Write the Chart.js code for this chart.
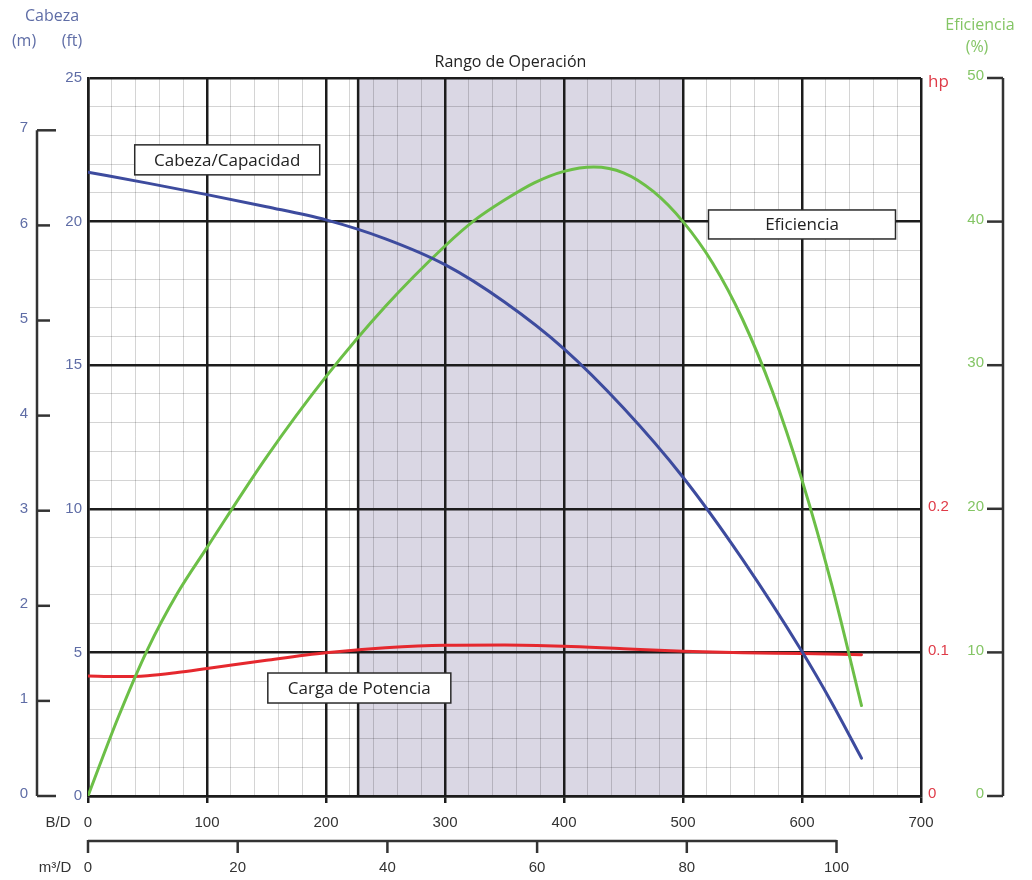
<!DOCTYPE html>
<html>
<head>
<meta charset="utf-8">
<title>Curva de bomba</title>
<script src="https://cdn.jsdelivr.net/npm/chart.js@4.4.0/dist/chart.umd.min.js"></script>
<style>
  html, body { margin: 0; padding: 0; background: #fff; }
  #wrap { width: 1032px; height: 880px; }
</style>
</head>
<body>
<div id="wrap"><canvas id="curva" width="1032" height="880"></canvas></div>
<script>
const caudalCabeza = [0, 50, 100, 150, 200, 250, 300, 350, 400, 450, 500, 550, 600, 625, 650];
const cabezaFt     = [21.72, 21.34, 20.94, 20.52, 20.06, 19.40, 18.50, 17.20, 15.57, 13.51, 11.10, 8.24, 5.03, 3.25, 1.32];

const caudalEfic    = [0, 25, 50, 75, 100, 150, 200, 250, 300, 325, 350, 375, 400, 425, 450, 475, 500, 525, 550, 575, 600, 625, 650];
const eficienciaPct = [0, 5.4, 10.2, 14.1, 17.3, 23.6, 29.2, 34.1, 38.3, 40.1, 41.5, 42.7, 43.5, 43.8, 43.4, 42.1, 40.0, 37.1, 33.2, 28.2, 22.0, 14.7, 6.3];

const caudalPot  = [0, 25, 50, 75, 100, 150, 200, 250, 300, 350, 400, 450, 500, 550, 600, 650];
const potenciaHp = [0.0836, 0.0832, 0.0838, 0.0860, 0.0888, 0.0945, 0.0997, 0.1032, 0.1050, 0.1052, 0.1043, 0.1025, 0.1008, 0.0998, 0.0992, 0.0984];

// rango de operación (B/D)
const rangoOperacion = [227, 500];

// etiquetas de ejes secundarios
const ticksMetros = [0, 1, 2, 3, 4, 5, 6, 7];
const ticksM3     = [0, 20, 40, 60, 80, 100];
const ticksHp     = [0, 0.1, 0.2];
const ticksEfic   = [0, 10, 20, 30, 40, 50];

(function(){
  const BLUE_TXT = '#5f6da6';
  const GREEN_TXT = '#84c565';
  const RED_TXT = '#df3b48';
  const DARK = '#1c1c1c';
  const TICK_FONT = '15px "Liberation Sans", Arial, sans-serif';
  const LABEL_FONT = '16px "Open Sans", "DejaVu Sans", sans-serif';

  const pts = (xs, ys) => xs.map((x, i) => ({ x, y: ys[i] }));
  const isMajorX = (v) => v % 100 === 0;
  const isMajorY = (v) => v % 5 === 0;

  function text(ctx, s, x, y, color, font, align){
    ctx.fillStyle = color;
    ctx.font = font;
    ctx.textAlign = align || 'center';
    ctx.textBaseline = 'middle';
    ctx.fillText(s, x, y);
  }

  function box(ctx, s, cx, cy, w, h){
    ctx.fillStyle = '#fff';
    ctx.fillRect(cx - w/2, cy - h/2, w, h);
    ctx.strokeStyle = '#2a2a2a';
    ctx.lineWidth = 1.5;
    ctx.strokeRect(cx - w/2, cy - h/2, w, h);
    text(ctx, s, cx, cy + 1, '#222', '17px "Open Sans", "DejaVu Sans", sans-serif');
  }

  function line(ctx, x0, y0, x1, y1){
    ctx.beginPath(); ctx.moveTo(x0, y0); ctx.lineTo(x1, y1); ctx.stroke();
  }

  const extras = {
    id: 'extras',
    beforeDraw(chart){
      const { ctx, chartArea: a, scales: { x } } = chart;
      const x0 = x.getPixelForValue(rangoOperacion[0]);
      const x1 = x.getPixelForValue(rangoOperacion[1]);
      ctx.save();
      ctx.fillStyle = '#dad7e4';
      ctx.fillRect(x0, a.top, x1 - x0, a.bottom - a.top);
      ctx.restore();
    },
    beforeDatasetsDraw(chart){
      // borde izquierdo del rango
      const { ctx, chartArea: a, scales: { x } } = chart;
      const x0 = x.getPixelForValue(rangoOperacion[0]);
      ctx.save();
      ctx.strokeStyle = DARK; ctx.lineWidth = 2.5;
      line(ctx, x0, a.top, x0, a.bottom);
      ctx.restore();
    },
    afterDraw(chart){
      const { ctx, chartArea: a, scales } = chart;
      const { x, y, yM, yHp, yEfic, xM } = scales;
      ctx.save();

      // títulos
      text(ctx, 'Cabeza', 52, 16, BLUE_TXT, LABEL_FONT);
      text(ctx, '(m)', 24, 41, BLUE_TXT, LABEL_FONT);
      text(ctx, '(ft)', 72, 41, BLUE_TXT, LABEL_FONT);
      text(ctx, 'Eficiencia', 980, 25, GREEN_TXT, LABEL_FONT);
      text(ctx, '(%)', 977, 47, GREEN_TXT, LABEL_FONT);
      text(ctx, 'Rango de Operación', x.getPixelForValue(355), a.top - 16, '#222', LABEL_FONT);
      text(ctx, 'hp', a.right + 7, a.top + 4, RED_TXT, '17px "Open Sans", sans-serif', 'left');

      // eje en metros
      const mx = 37;
      ctx.strokeStyle = '#333'; ctx.lineWidth = 2.5;
      const mTop = yM.getPixelForValue(ticksMetros[ticksMetros.length - 1]);
      line(ctx, mx, mTop, mx, yM.getPixelForValue(0));
      ticksMetros.forEach((v, i) => {
        const py = yM.getPixelForValue(v);
        const len = (i === 0 || i === ticksMetros.length - 1) ? 19 : 13;
        line(ctx, mx, py, mx + len, py);
        text(ctx, String(v), 28, py - 2, BLUE_TXT, TICK_FONT, 'right');
      });

      // eje de potencia
      ticksHp.forEach(v => {
        text(ctx, String(v), a.right + 7, yHp.getPixelForValue(v) - 2, RED_TXT, TICK_FONT, 'left');
      });

      // eje de eficiencia
      const ex = 1003;
      line(ctx, ex, yEfic.getPixelForValue(50), ex, yEfic.getPixelForValue(0));
      ticksEfic.forEach(v => {
        const py = yEfic.getPixelForValue(v);
        line(ctx, ex - 16, py, ex, py);
        text(ctx, String(v), ex - 19, py - 2, GREEN_TXT, TICK_FONT, 'right');
      });

      // eje en m3/D
      const ly = 841;
      line(ctx, xM.getPixelForValue(0), ly, xM.getPixelForValue(ticksM3[ticksM3.length - 1]), ly);
      ticksM3.forEach(v => {
        const px = xM.getPixelForValue(v);
        line(ctx, px, ly - 1, px, ly + 12);
        text(ctx, String(v), px, 868, '#333', TICK_FONT);
      });
      text(ctx, 'B/D', 58, 823, '#333', TICK_FONT);
      text(ctx, 'm³/D', 55, 868, '#333', TICK_FONT);

      // etiquetas de curvas
      box(ctx, 'Cabeza/Capacidad', x.getPixelForValue(117), y.getPixelForValue(22.15), 185, 30);
      box(ctx, 'Eficiencia', x.getPixelForValue(600), y.getPixelForValue(19.9), 187, 29);
      box(ctx, 'Carga de Potencia', x.getPixelForValue(228), y.getPixelForValue(3.76), 183, 30);

      ctx.restore();
    }
  };

  const gridX = {
    color: (c) => isMajorX(c.tick.value) ? DARK : 'rgba(0,0,0,0.17)',
    lineWidth: (c) => isMajorX(c.tick.value) ? 2.5 : 1,
    tickColor: (c) => isMajorX(c.tick.value) ? DARK : 'rgba(0,0,0,0)',
    tickLength: 7
  };
  const gridY = {
    color: (c) => isMajorY(c.tick.value) ? DARK : 'rgba(0,0,0,0.17)',
    lineWidth: (c) => isMajorY(c.tick.value) ? 2.5 : 1,
    drawTicks: false
  };

  new Chart(document.getElementById('curva').getContext('2d'), {
    type: 'line',
    data: {
      datasets: [
        { label: 'Cabeza/Capacidad', data: pts(caudalCabeza, cabezaFt), yAxisID: 'y',
          borderColor: '#3d4b9e', borderWidth: 3 },
        { label: 'Eficiencia', data: pts(caudalEfic, eficienciaPct), yAxisID: 'yEfic',
          borderColor: '#6cbf47', borderWidth: 3 },
        { label: 'Carga de Potencia', data: pts(caudalPot, potenciaHp), yAxisID: 'yHp',
          borderColor: '#e5282e', borderWidth: 3 }
      ]
    },
    options: {
      responsive: false,
      animation: false,
      layout: { padding: { left: 48, right: 111, top: 78, bottom: 44 } },
      elements: {
        point: { radius: 0 },
        line: { tension: 0.4, cubicInterpolationMode: 'monotone', fill: false, borderCapStyle: 'round' }
      },
      plugins: { legend: { display: false }, tooltip: { enabled: false } },
      scales: {
        x: {
          type: 'linear', position: 'bottom', min: 0, max: 700,
          grid: gridX,
          border: { display: true, color: DARK, width: 2.5 },
          ticks: {
            stepSize: 20, autoSkip: false, maxRotation: 0, padding: 11,
            color: '#333', font: { family: 'Liberation Sans', size: 15 },
            callback: (v) => isMajorX(v) ? String(v) : ''
          },
          afterFit: (s) => { s.height = 40; }
        },
        y: {
          type: 'linear', position: 'left', min: 0, max: 25,
          grid: gridY,
          border: { display: true, color: DARK, width: 2.5 },
          ticks: {
            stepSize: 1, autoSkip: false, padding: 6,
            color: BLUE_TXT, font: { family: 'Liberation Sans', size: 15 },
            callback: (v) => isMajorY(v) ? String(v) : ''
          },
          afterFit: (s) => { s.width = 40; }
        },
        yM:    { type: 'linear', display: false, min: 0, max: 7.55 },
        yHp:   { type: 'linear', display: false, min: 0, max: 0.5 },
        yEfic: { type: 'linear', display: false, min: 0, max: 50 },
        xM:    { type: 'linear', axis: 'x', position: 'bottom', display: false, min: 0, max: 700 / 6.29 }
      }
    },
    plugins: [extras]
  });
})();
</script>
</body>
</html>
